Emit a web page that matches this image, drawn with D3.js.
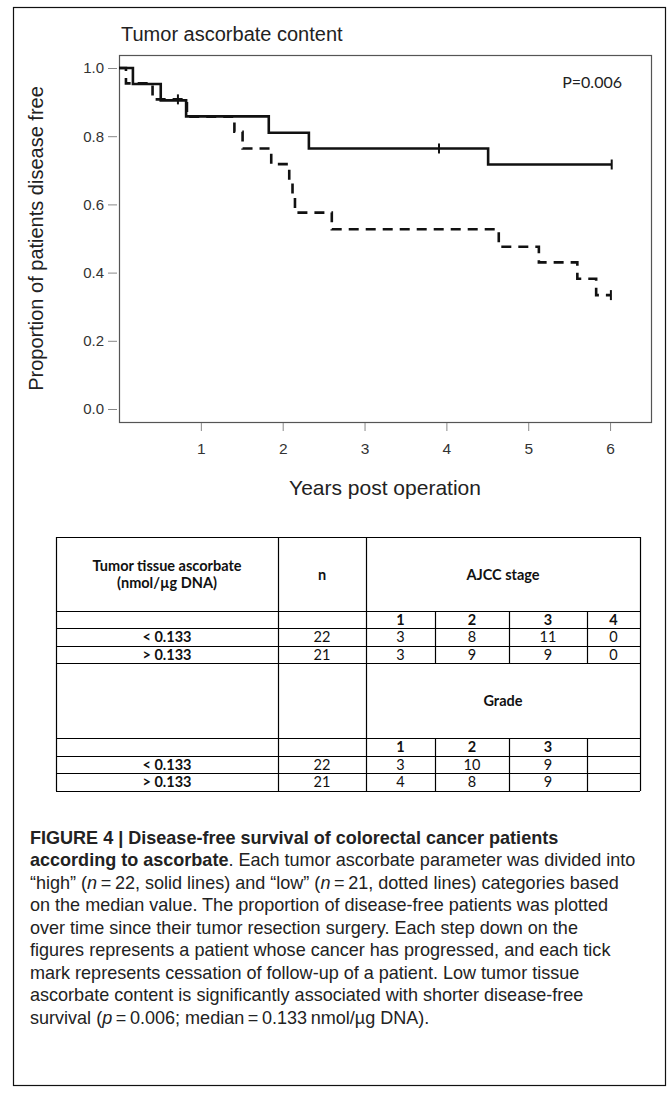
<!DOCTYPE html>
<html>
<head>
<meta charset="utf-8">
<script src="https://cdn.jsdelivr.net/npm/d3@7"></script>
<style>
  body { margin: 0; background: #fff; }
  svg { display: block; }
</style>
</head>
<body>
<svg id="fig" width="671" height="1093"></svg>
<script>
// Kaplan-Meier steps
const highTimes = [0, 0.17, 0.51, 0.82, 1.83, 2.32, 4.51];
const highSurv = [1, 0.953, 0.905, 0.858, 0.81, 0.764, 0.717];
const highEnd = 6.02;
const highCensor = [3.91, 6.02];

const lowTimes = [0, 0.085, 0.41, 0.83, 1.41, 1.51, 1.86, 2.08, 2.12, 2.15, 2.6, 4.64, 5.13, 5.6, 5.83];
const lowSurv = [1, 0.955, 0.908, 0.857, 0.813, 0.764, 0.718, 0.671, 0.624, 0.576, 0.527, 0.476, 0.43, 0.382, 0.334];
const lowEnd = 6.01;
const lowCensor = [0.72, 6.01];

const xTicks = [1, 2, 3, 4, 5, 6];
const yTicks = [0, 0.2, 0.4, 0.6, 0.8, 1.0];

// table
const groups = ["< 0.133", "> 0.133"];
const groupN = [22, 21];
const stageLabels = ["1", "2", "3", "4"];
const stageCounts = [[3, 8, 11, 0], [3, 9, 9, 0]];
const gradeLabels = ["1", "2", "3", ""];
const gradeCounts = [[3, 10, 9, ""], [4, 8, 9, ""]];

const svg = d3.select("#fig");
const sans = "'Liberation Sans', Arial, sans-serif";
const calibri = "Lato, 'Open Sans', sans-serif";

// outer frame
svg.append("rect")
  .attr("x", 13.5).attr("y", 7.5)
  .attr("width", 652).attr("height", 1078)
  .attr("fill", "none").attr("stroke", "#111").attr("stroke-width", 1.2);

const plot = { left: 119, right: 651, top: 55, bottom: 422 };
const x = d3.scaleLinear().domain([0, 6.5]).range([plot.left, plot.right]);
const y = d3.scaleLinear().domain([0, 1]).range([409, 68]);

svg.append("text")
  .attr("x", 121).attr("y", 41)
  .attr("font-family", sans).attr("font-size", 20).attr("fill", "#222")
  .text("Tumor ascorbate content");

// plot box
svg.append("rect")
  .attr("x", plot.left + 0.5).attr("y", plot.top + 0.5)
  .attr("width", plot.right - plot.left).attr("height", plot.bottom - plot.top)
  .attr("fill", "none").attr("stroke", "#555").attr("stroke-width", 1.2);

// y axis, ticks hang left of the box
const yAxis = svg.append("g")
  .attr("transform", `translate(${plot.left - 2},0)`)
  .call(d3.axisLeft(y).tickValues(yTicks).tickFormat(d3.format(".1f")).tickSize(9).tickPadding(4));
yAxis.select(".domain").remove();
yAxis.selectAll("line").attr("stroke", "#888");
yAxis.selectAll("text").attr("font-family", sans).attr("font-size", 15).attr("fill", "#333");

const xAxis = svg.append("g")
  .attr("transform", `translate(0,${plot.bottom + 1})`)
  .call(d3.axisBottom(x).tickValues(xTicks).tickFormat(d3.format("d")).tickSize(8).tickPadding(12));
xAxis.select(".domain").remove();
xAxis.selectAll("line").attr("stroke", "#888");
xAxis.selectAll("text").attr("font-family", sans).attr("font-size", 15.5).attr("fill", "#333");

svg.append("text")
  .attr("transform", `translate(43,${(plot.top + plot.bottom) / 2}) rotate(-90)`)
  .attr("text-anchor", "middle")
  .attr("font-family", sans).attr("font-size", 20).attr("fill", "#222")
  .text("Proportion of patients disease free");

svg.append("text")
  .attr("x", (plot.left + plot.right) / 2).attr("y", 495)
  .attr("text-anchor", "middle")
  .attr("font-family", sans).attr("font-size", 21).attr("fill", "#222")
  .text("Years post operation");

svg.append("text")
  .attr("x", 622).attr("y", 88)
  .attr("text-anchor", "end")
  .attr("font-family", calibri).attr("font-size", 16).attr("fill", "#222")
  .text("P=0.006");

// survival curves
const step = d3.line().x(d => x(d[0])).y(d => y(d[1])).curve(d3.curveStepAfter);

function curve(times, surv, end, censor, dash) {
  const pts = times.map((t, i) => [t, surv[i]]);
  pts.push([end, surv[surv.length - 1]]);
  svg.append("path")
    .attr("d", step(pts))
    .attr("fill", "none").attr("stroke", "#111").attr("stroke-width", 2.6)
    .attr("stroke-dasharray", dash);
  const survAt = t => surv[d3.bisectRight(times, t) - 1];
  svg.selectAll(null)
    .data(censor)
    .enter()
    .append("line")
    .attr("x1", d => x(d)).attr("x2", d => x(d))
    .attr("y1", d => y(survAt(d)) - 5).attr("y2", d => y(survAt(d)) + 5)
    .attr("stroke", "#111").attr("stroke-width", 2);
}
curve(lowTimes, lowSurv, lowEnd, lowCensor, "10,7");
curve(highTimes, highSurv, highEnd, highCensor, null);

// table
const cols = [56, 278, 366, 435, 509, 587, 640];
const rows = [537, 611, 628, 646, 663, 738, 756, 773, 791];
const tbl = svg.append("g").attr("font-family", calibri).attr("font-size", 14.5).attr("fill", "#111");

function hline(yy, x1, x2) {
  tbl.append("line").attr("x1", x1).attr("x2", x2).attr("y1", yy + 0.5).attr("y2", yy + 0.5)
    .attr("stroke", "#000").attr("stroke-width", 1.2);
}
function vline(xx, y1, y2) {
  tbl.append("line").attr("x1", xx + 0.5).attr("x2", xx + 0.5).attr("y1", y1).attr("y2", y2)
    .attr("stroke", "#000").attr("stroke-width", 1.2);
}
function cell(txt, cx, cy, bold) {
  tbl.append("text").attr("x", cx).attr("y", cy).attr("dy", "0.35em")
    .attr("text-anchor", "middle").attr("font-weight", bold ? 700 : 400).text(txt);
}

rows.forEach(r => hline(r, cols[0], cols[6]));
vline(cols[0], rows[0], rows[8]);
vline(cols[1], rows[0], rows[8]);
vline(cols[2], rows[0], rows[8]);
vline(cols[6], rows[0], rows[8]);
// sub-columns only in the numbered rows
[[rows[1], rows[4]], [rows[5], rows[8]]].forEach(([a, b]) => {
  [cols[3], cols[4], cols[5]].forEach(c => vline(c, a, b));
});

const midCol = i => (cols[i] + cols[i + 1]) / 2;
cell("Tumor tissue ascorbate", midCol(0), 566, true);
cell("(nmol/µg DNA)", midCol(0), 583, true);
cell("n", midCol(1), 575, true);
cell("AJCC stage", (cols[2] + cols[6]) / 2, 575, true);
cell("Grade", (cols[2] + cols[6]) / 2, 701, true);

const rowMid = i => (rows[i] + rows[i + 1]) / 2;
stageLabels.forEach((s, j) => cell(s, midCol(2 + j), rowMid(1), true));
gradeLabels.forEach((s, j) => cell(s, midCol(2 + j), rowMid(5), true));
groups.forEach((g, i) => {
  cell(g, midCol(0), rowMid(2 + i), true);
  cell(groupN[i], midCol(1), rowMid(2 + i), false);
  stageCounts[i].forEach((v, j) => cell(v, midCol(2 + j), rowMid(2 + i), false));
  cell(g, midCol(0), rowMid(6 + i), true);
  cell(groupN[i], midCol(1), rowMid(6 + i), false);
  gradeCounts[i].forEach((v, j) => cell(v, midCol(2 + j), rowMid(6 + i), false));
});

// caption, Liberation Sans squeezed slightly
const capLines = [
  [["FIGURE 4 | Disease-free survival of colorectal cancer patients", true]],
  [["according to ascorbate", true], [". Each tumor ascorbate parameter was divided into", false]],
  [["\u201Chigh\u201D (", false], ["n", false, true], ["\u2009=\u200922, solid lines) and \u201Clow\u201D (", false], ["n", false, true], ["\u2009=\u200921, dotted lines) categories based", false]],
  [["on the median value. The proportion of disease-free patients was plotted", false]],
  [["over time since their tumor resection surgery. Each step down on the", false]],
  [["figures represents a patient whose cancer has progressed, and each tick", false]],
  [["mark represents cessation of follow-up of a patient. Low tumor tissue", false]],
  [["ascorbate content is significantly associated with shorter disease-free", false]],
  [["survival (", false], ["p", false, true], ["\u2009=\u20090.006; median\u2009=\u20090.133\u2009nmol/\u00B5g DNA).", false]]
];
const cap = svg.append("g")
  .attr("transform", "translate(30,0) scale(0.975,1)")
  .attr("font-family", sans).attr("font-size", 18.5).attr("fill", "#222");
capLines.forEach((parts, i) => {
  const t = cap.append("text").attr("x", 0).attr("y", 844 + i * 22.5);
  parts.forEach(([s, bold, ital]) => {
    t.append("tspan")
      .attr("font-weight", bold ? 700 : 400)
      .attr("font-style", ital ? "italic" : "normal")
      .text(s);
  });
});
</script>
</body>
</html>
